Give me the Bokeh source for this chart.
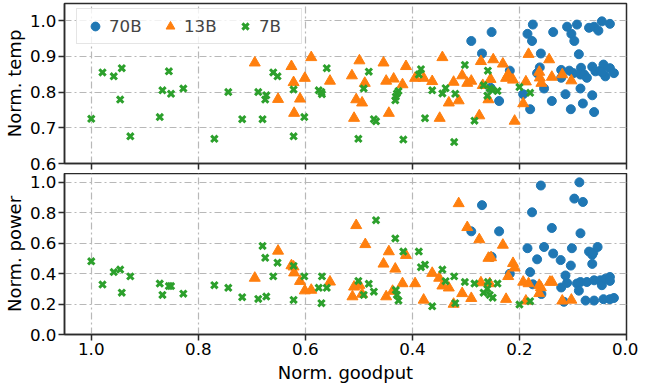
from bokeh.plotting import figure
from bokeh.layouts import column
from bokeh.models import Range1d, FixedTicker, Legend, LegendItem
from bokeh.embed import file_html
from bokeh.resources import INLINE

FONT = "DejaVu Sans"

# ---------------- data ----------------
x_ticks = [1.0, 0.8, 0.6, 0.4, 0.2, 0.0]
x_tick_labels = ["1.0", "0.8", "0.6", "0.4", "0.2", "0.0"]
temp_ticks = [0.6, 0.7, 0.8, 0.9, 1.0]
temp_tick_labels = ["0.6", "0.7", "0.8", "0.9", "1.0"]
power_ticks = [0.0, 0.2, 0.4, 0.6, 0.8, 1.0]
power_tick_labels = ["0.0", "0.2", "0.4", "0.6", "0.8", "1.0"]

# 7B (shared goodput for both panels)
goodput_7b = [1.000, 0.979, 0.958, 0.946, 0.943, 0.927, 0.872, 0.867, 0.855, 0.851,
              0.828, 0.770, 0.744, 0.718, 0.688, 0.680, 0.675, 0.673, 0.660, 0.652,
              0.622, 0.622, 0.602, 0.575, 0.569, 0.570, 0.560,
              0.501, 0.491, 0.4815, 0.472, 0.468, 0.432, 0.431, 0.429, 0.426, 0.417,
              0.388, 0.384, 0.3765, 0.363, 0.344, 0.338, 0.322, 0.320, 0.302, 0.284,
              0.267, 0.260, 0.259, 0.2555, 0.250, 0.241, 0.200, 0.180]
temp_7b = [0.725, 0.855, 0.844, 0.779, 0.867, 0.676, 0.730, 0.805, 0.858, 0.795,
           0.810, 0.669, 0.800, 0.724, 0.800, 0.724, 0.779, 0.791, 0.855, 0.844,
           0.807, 0.676, 0.730, 0.805, 0.794, 0.800, 0.867,
           0.669, 0.810, 0.857, 0.724, 0.718, 0.777, 0.787, 0.796, 0.803, 0.667,
           0.849, 0.864, 0.727, 0.805, 0.796, 0.811, 0.660, 0.795, 0.876, 0.720,
           0.819, 0.790, 0.860, 0.810, 0.805, 0.803, 0.814, 0.798]
power_7b = [0.481, 0.328, 0.410, 0.427, 0.275, 0.382, 0.335, 0.260, 0.318, 0.318,
            0.268, 0.324, 0.307, 0.245, 0.234, 0.582, 0.504, 0.249, 0.382, 0.472,
            0.451, 0.227, 0.382, 0.307, 0.382, 0.206, 0.307,
            0.352, 0.260, 0.333, 0.281, 0.751, 0.631, 0.292, 0.260, 0.223, 0.545,
            0.545, 0.442, 0.459, 0.185, 0.427, 0.350, 0.382, 0.206, 0.345, 0.335,
            0.275, 0.300, 0.345, 0.260, 0.242, 0.335, 0.197, 0.219]

# 13B - temperature panel
temp_goodput_13b = [0.6945, 0.626, 0.622, 0.589, 0.601, 0.554, 0.651, 0.610, 0.621,
                    0.513, 0.499, 0.505, 0.494, 0.489, 0.509, 0.454, 0.449, 0.435, 0.4185,
                    0.412, 0.444, 0.395, 0.379, 0.363, 0.344, 0.323, 0.332, 0.3135, 0.349,
                    0.307, 0.2975, 0.290, 0.272, 0.249, 0.254, 0.2685, 0.258, 0.275, 0.231,
                    0.221, 0.225, 0.212, 0.209, 0.193, 0.188, 0.183, 0.163, 0.162, 0.159,
                    0.1445, 0.1395, 0.120, 0.103]
temp_13b = [0.882, 0.872, 0.827, 0.897, 0.839, 0.831, 0.780, 0.781, 0.741,
            0.846, 0.888, 0.779, 0.770, 0.825, 0.727, 0.882, 0.831, 0.837, 0.821,
            0.872, 0.741, 0.839, 0.839, 0.830, 0.897, 0.828, 0.770, 0.776, 0.727,
            0.846, 0.825, 0.831, 0.886, 0.891, 0.836, 0.819, 0.779, 0.734, 0.879,
            0.849, 0.839, 0.834, 0.719, 0.768, 0.829, 0.906, 0.856, 0.840, 0.825,
            0.891, 0.842, 0.849, 0.832]

# 13B - power panel
power_goodput_13b = [0.6945, 0.651, 0.626, 0.622, 0.621, 0.610, 0.601, 0.589, 0.554,
                     0.505, 0.509, 0.499, 0.512, 0.494, 0.488, 0.454, 0.449, 0.444, 0.432,
                     0.437, 0.4185, 0.412, 0.395, 0.379, 0.363, 0.350, 0.344, 0.332, 0.323,
                     0.3135, 0.307, 0.2975, 0.290, 0.275, 0.272, 0.258, 0.253, 0.2555, 0.231,
                     0.225, 0.221, 0.212, 0.209, 0.193, 0.183, 0.188, 0.163, 0.160, 0.163,
                     0.143, 0.139, 0.120, 0.103]
power_13b = [0.371, 0.549, 0.453, 0.445, 0.406, 0.350, 0.288, 0.292, 0.346,
             0.717, 0.313, 0.324, 0.249, 0.266, 0.592, 0.464, 0.249, 0.545, 0.431,
             0.285, 0.335, 0.521, 0.335, 0.227, 0.403, 0.371, 0.320, 0.307, 0.200,
             0.861, 0.270, 0.704, 0.238, 0.624, 0.341, 0.502, 0.506, 0.335, 0.588,
             0.232, 0.382, 0.468, 0.438, 0.345, 0.335, 0.221, 0.324, 0.309, 0.270,
             0.345, 0.345, 0.221, 0.227]

# 70B - temperature panel
temp_goodput_70b = [0.290, 0.270, 0.252, 0.218, 0.238, 0.254, 0.193, 0.180, 0.175, 0.185,
                    0.1765, 0.160, 0.162, 0.167, 0.154, 0.1395, 0.137, 0.122, 0.122, 0.114,
                    0.111, 0.103, 0.0975, 0.0925, 0.089, 0.104, 0.107, 0.099, 0.085, 0.086,
                    0.079, 0.074, 0.086, 0.0815, 0.070, 0.0605, 0.0525, 0.046, 0.031, 0.064,
                    0.058, 0.049, 0.043, 0.0395, 0.031, 0.0235, 0.064, 0.0605, 0.046]
temp_70b = [0.943, 0.908, 0.968, 0.860, 0.775, 0.812, 0.794, 0.752, 0.989, 0.963,
            0.943, 0.908, 0.869, 0.853, 0.810, 0.775, 0.968, 0.862, 0.840, 0.794,
            0.983, 0.963, 0.943, 0.989, 0.906, 0.752, 0.860, 0.853, 0.868, 0.849,
            0.849, 0.840, 0.810, 0.768, 0.980, 0.983, 0.972, 0.998, 0.991, 0.871,
            0.858, 0.860, 0.877, 0.844, 0.867, 0.853, 0.791, 0.744, 0.856]

# 70B - power panel
power_goodput_70b = [0.270, 0.290, 0.238, 0.252, 0.218, 0.185, 0.180, 0.175, 0.160, 0.1765,
                     0.159, 0.167, 0.154, 0.1395, 0.137, 0.123, 0.122, 0.117, 0.114, 0.111,
                     0.104, 0.102, 0.0975, 0.088, 0.0815, 0.086, 0.0925, 0.089, 0.086, 0.0765,
                     0.074, 0.070, 0.064, 0.062, 0.054, 0.064, 0.0605, 0.0605, 0.049, 0.046,
                     0.043, 0.0395, 0.031, 0.031, 0.031, 0.0235]
power_70b = [0.850, 0.678, 0.678, 0.511, 0.399, 0.567, 0.410, 0.330, 0.979, 0.803,
             0.266, 0.494, 0.575, 0.700, 0.532, 0.489, 0.309, 0.215, 0.388, 0.339,
             0.453, 0.567, 0.893, 1.000, 0.871, 0.665, 0.335, 0.288, 0.345, 0.223,
             0.345, 0.545, 0.524, 0.539, 0.575, 0.464, 0.223, 0.356, 0.356, 0.324,
             0.232, 0.367, 0.378, 0.352, 0.232, 0.240]

# ---------------- styling helpers ----------------
BLUE, ORANGE, GREEN = "#1f77b4", "#ff7f0e", "#2ca02c"
SPINE = "#2b2b2b"
GRID = "#b8b8b8"

x_range = Range1d(1.05, 0.0)


def style(p, yticks, ylabels, ylabel):
    p.outline_line_color = SPINE
    p.outline_line_width = 1.5
    for ax in (p.xaxis[0], p.yaxis[0]):
        ax.axis_line_color = SPINE
        ax.axis_line_width = 1.5
        ax.major_tick_line_color = SPINE
        ax.major_tick_line_width = 1.5
        ax.major_tick_out = 6
        ax.major_tick_in = 0
        ax.minor_tick_out = 0
        ax.minor_tick_in = 0
        ax.major_label_text_font = FONT
        ax.major_label_text_font_size = "16.7px"
        ax.major_label_text_color = "#000000"
        ax.axis_label_text_font = FONT
        ax.axis_label_text_font_size = "18px"
        ax.axis_label_text_font_style = "normal"
        ax.axis_label_text_color = "#000000"
        ax.major_label_standoff = 2
    p.xaxis.ticker = FixedTicker(ticks=x_ticks)
    p.xaxis.major_label_overrides = dict(zip(x_ticks, x_tick_labels))
    p.yaxis.ticker = FixedTicker(ticks=yticks)
    p.yaxis.major_label_overrides = dict(zip(yticks, ylabels))
    p.yaxis.axis_label = ylabel
    p.yaxis.axis_label_standoff = 2
    p.xgrid.ticker = FixedTicker(ticks=x_ticks)
    p.ygrid.ticker = FixedTicker(ticks=yticks)
    for g in (p.xgrid[0], p.ygrid[0]):
        g.grid_line_color = GRID
        g.grid_line_width = 1.2
        g.grid_line_dash = "7 3 2 3"
    p.background_fill_color = "white"
    p.border_fill_color = "white"


p1 = figure(frame_width=562, frame_height=160, x_range=x_range,
            y_range=Range1d(0.6, 1.048), output_backend="svg",
            toolbar_location=None, min_border_left=57, min_border_right=12,
            min_border_top=3, min_border_bottom=10)
style(p1, temp_ticks, temp_tick_labels, "Norm. temp")
p1.xaxis.major_label_text_font_size = "1px"
p1.xaxis.major_label_text_alpha = 0
p1.xaxis.major_label_standoff = 0

rb = p1.scatter(temp_goodput_70b, temp_70b, marker="circle", size=9,
                fill_color=BLUE, line_color=BLUE)
ro = p1.scatter(temp_goodput_13b, temp_13b, marker="triangle", size=11,
                fill_color=ORANGE, line_color=ORANGE)
rg = p1.scatter(goodput_7b, temp_7b, marker="x", size=9, line_width=3,
                line_color=GREEN)

legend = Legend(items=[LegendItem(label="70B", renderers=[rb]),
                       LegendItem(label="13B", renderers=[ro]),
                       LegendItem(label="7B", renderers=[rg])],
                orientation="horizontal", location=(12, 119), margin=0)
legend.label_text_font = FONT
legend.label_text_font_size = "16.7px"
legend.glyph_width = 24
legend.glyph_height = 22
legend.label_height = 22
legend.label_width = 36
legend.label_standoff = 2
legend.spacing = 13
legend.padding = 6
legend.border_line_color = "#cccccc"
legend.border_line_width = 1
legend.background_fill_alpha = 0.8
p1.add_layout(legend)

p2 = figure(frame_width=562, frame_height=161, x_range=x_range,
            y_range=Range1d(0.0, 1.058), output_backend="svg",
            toolbar_location=None, min_border_left=57, min_border_right=12,
            min_border_top=0, min_border_bottom=0)
style(p2, power_ticks, power_tick_labels, "Norm. power")
p2.xaxis.axis_label = "Norm. goodput"
p2.xaxis.axis_label_standoff = 4

p2.scatter(power_goodput_70b, power_70b, marker="circle", size=9,
           fill_color=BLUE, line_color=BLUE)
p2.scatter(power_goodput_13b, power_13b, marker="triangle", size=11,
           fill_color=ORANGE, line_color=ORANGE)
p2.scatter(goodput_7b, power_7b, marker="x", size=9, line_width=3,
           line_color=GREEN)

layout = column(p1, p2, spacing=0)
open("out.html", "w").write(file_html(layout, INLINE))
